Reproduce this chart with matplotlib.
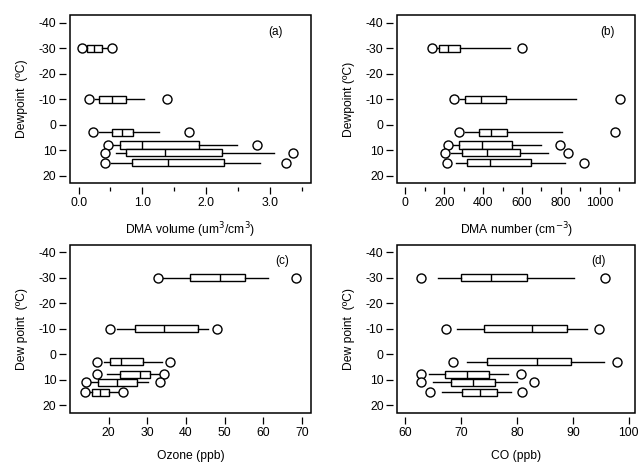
import numpy as np
import matplotlib
matplotlib.use("Agg")
import matplotlib.pyplot as plt
from matplotlib.patches import Rectangle
from matplotlib.ticker import MultipleLocator, FormatStrFormatter

plt.rcParams['font.family'] = ['Liberation Sans', 'DejaVu Sans']
plt.rcParams['axes.unicode_minus'] = False

# dewpoint bins (degC)
dewpoint = [-30, -10, 3, 8, 11, 15]

# (a) DMA volume (um3/cm3)
vol_q1 = [0.125, 0.32, 0.52, 0.65, 0.74, 0.84]
vol_med = [0.246, 0.52, 0.68, 1.00, 1.35, 1.40]
vol_q3 = [0.371, 0.75, 0.86, 1.89, 2.25, 2.28]
vol_lo = [0.09, 0.25, 0.32, 0.54, 0.58, 0.51]
vol_hi = [0.45, 1.03, 1.26, 2.48, 3.06, 2.84]
vol_min = [0.047, 0.167, 0.23, 0.46, 0.41, 0.41]
vol_max = [0.52, 1.38, 1.73, 2.80, 3.36, 3.26]

# (b) DMA number (cm-3)
num_q1 = [172, 309, 380, 278, 290, 318]
num_med = [218, 390, 438, 395, 419, 436]
num_q3 = [283, 519, 521, 548, 591, 648]
num_lo = [160, 283, 308, 247, 235, 261]
num_hi = [536, 880, 806, 696, 734, 823]
num_min = [136, 249, 275, 218, 205, 215]
num_max = [601, 1103, 1081, 794, 837, 918]

# (c) Ozone (ppb)
o3_q1 = [41.1, 26.9, 20.3, 23.0, 17.3, 15.7]
o3_med = [48.7, 34.2, 23.2, 28.0, 22.1, 17.9]
o3_q3 = [55.2, 43.0, 29.0, 30.7, 27.3, 20.1]
o3_lo = [34.1, 22.3, 18.9, 19.7, 15.4, 14.2]
o3_hi = [61.1, 45.6, 33.9, 33.1, 30.3, 22.5]
o3_min = [32.8, 20.3, 17.0, 17.0, 14.1, 13.9]
o3_max = [68.5, 48.1, 35.8, 34.4, 33.4, 23.6]

# (d) CO (ppb)
co_q1 = [70.0, 74.0, 74.6, 67.1, 68.2, 70.2]
co_med = [75.4, 82.7, 83.6, 71.0, 72.1, 73.4]
co_q3 = [81.8, 88.9, 89.6, 75.0, 76.1, 76.4]
co_lo = [65.8, 69.2, 71.0, 64.3, 65.0, 66.5]
co_hi = [90.2, 92.6, 95.6, 78.4, 80.0, 79.0]
co_min = [62.8, 67.3, 68.6, 62.8, 62.8, 64.5]
co_max = [95.7, 94.7, 97.9, 80.7, 83.0, 80.9]


def make_stats(q1, med, q3, lo, hi, mn, mx):
    stats = []
    for i in range(len(med)):
        stats.append({'q1': q1[i], 'med': med[i], 'q3': q3[i],
                      'whislo': lo[i], 'whishi': hi[i],
                      'fliers': [mn[i], mx[i]]})
    return stats


def draw_panel(ax, stats, xlim, xlabel, ylabel, tag, tag_x):
    ax.bxp(stats, positions=dewpoint, widths=2.8, orientation='horizontal',
           showcaps=False, patch_artist=True, manage_ticks=False,
           boxprops=dict(facecolor='white', edgecolor='black', linewidth=1.0),
           medianprops=dict(color='black', linewidth=1.0),
           whiskerprops=dict(color='black', linewidth=1.0),
           flierprops=dict(marker='o', markersize=6.5, markerfacecolor='white',
                           markeredgecolor='black', markeredgewidth=1.0))
    ax.set_xlim(xlim)
    ax.set_ylim(23, -43)
    ax.yaxis.set_major_locator(MultipleLocator(10))

    # Igor-like frame: ticks slightly detached from the box
    for s in ax.spines.values():
        s.set_visible(False)
    ax.spines['left'].set_position(('outward', 3))
    ax.spines['bottom'].set_position(('outward', 3))
    ax.add_patch(Rectangle((0, 0), 1, 1, transform=ax.transAxes, fill=False,
                           edgecolor='black', linewidth=1.1, clip_on=False))
    ax.tick_params(which='major', direction='out', length=5, width=0.9,
                   labelsize=8.8, pad=2)
    ax.tick_params(which='minor', direction='out', length=3, width=0.9)
    ax.set_xlabel(xlabel, fontsize=8.7, labelpad=8)
    ax.set_ylabel(ylabel, fontsize=8.7, labelpad=8)
    ax.text(tag_x, 0.90, tag, transform=ax.transAxes, fontsize=8.5,
            ha='center', va='center')


fig = plt.figure(figsize=(6.39, 4.66), dpi=100)
ax_a = fig.add_axes([0.110, 0.607, 0.376, 0.3605])
ax_b = fig.add_axes([0.622, 0.607, 0.3725, 0.3605])
ax_c = fig.add_axes([0.110, 0.1145, 0.376, 0.3605])
ax_d = fig.add_axes([0.622, 0.1145, 0.3725, 0.3605])

draw_panel(ax_a, make_stats(vol_q1, vol_med, vol_q3, vol_lo, vol_hi, vol_min, vol_max),
           (-0.13, 3.64), 'DMA volume (um$^3$/cm$^3$)', 'Dewpoint  (\u00baC)', '(a)', 0.854)
ax_a.xaxis.set_major_locator(MultipleLocator(1.0))
ax_a.xaxis.set_minor_locator(MultipleLocator(0.5))
ax_a.xaxis.set_major_formatter(FormatStrFormatter('%.1f'))

draw_panel(ax_b, make_stats(num_q1, num_med, num_q3, num_lo, num_hi, num_min, num_max),
           (-41, 1184), 'DMA number (cm$^{-3}$)', 'Dewpoint (\u00baC)', '(b)', 0.884)
ax_b.xaxis.set_major_locator(MultipleLocator(200))
ax_b.xaxis.set_minor_locator(MultipleLocator(100))

draw_panel(ax_c, make_stats(o3_q1, o3_med, o3_q3, o3_lo, o3_hi, o3_min, o3_max),
           (10.1, 72.2), 'Ozone (ppb)', 'Dew point  (\u00baC)', '(c)', 0.884)
ax_c.set_xticks([20, 30, 40, 50, 60, 70])

draw_panel(ax_d, make_stats(co_q1, co_med, co_q3, co_lo, co_hi, co_min, co_max),
           (58.6, 101.2), 'CO (ppb)', 'Dew point  (\u00baC)', '(d)', 0.846)
ax_d.xaxis.set_major_locator(MultipleLocator(10))

fig.savefig('out.png', dpi=100)
